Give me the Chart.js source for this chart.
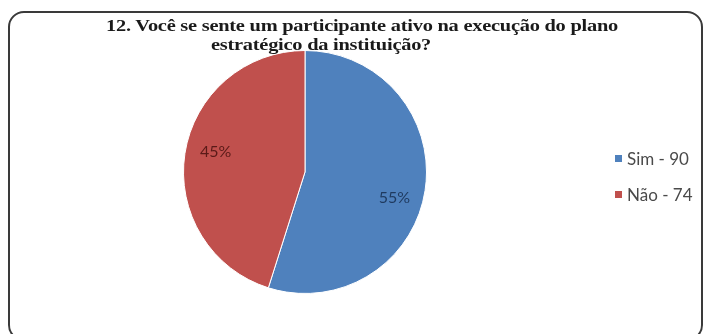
<!DOCTYPE html>
<html>
<head>
<meta charset="utf-8">
<script src="https://cdn.jsdelivr.net/npm/chart.js@4"></script>
<style>
  html, body { margin: 0; padding: 0; background: #fff; overflow: hidden; }
  #wrap { position: relative; width: 703px; height: 334px; overflow: hidden; }
  #frame {
    position: absolute; left: 8px; top: 11px; width: 695px; height: 330px;
    border: 2px solid #3a3a3a; border-radius: 16px; box-sizing: border-box;
  }
  #chart { position: absolute; left: 0; top: 0; }
  .title {
    position: absolute; white-space: nowrap;
    font-family: "Liberation Serif", "DejaVu Serif", serif; font-weight: bold;
    font-size: 17px; color: #1a1a1a; letter-spacing: -0.2px;
    transform: translateX(-50%) scaleX(1.2);
  }
  #legend { position: absolute; left: 615px; top: 148px; font-family: Lato, "Open Sans", sans-serif; font-size: 17px; color: #4a4a4a; }
  .item { height: 36px; display: flex; align-items: flex-start; }
  .swatch { width: 7px; height: 7px; margin: 7px 5px 0 0; }
</style>
</head>
<body>
<div id="wrap">
  <div id="frame"></div>
  <canvas id="chart" width="703" height="334"></canvas>
  <div class="title" id="t1" style="top:16px; left:362px"></div>
  <div class="title" id="t2" style="top:35px; left:321px"></div>
  <div id="legend"></div>
</div>
<script>
const titleLines = ["12. Você se sente um participante  ativo na execução do plano", "estratégico da instituição?"];
const labels = ["Sim", "Não"];
const values = [90, 74];
const colors = ['#4f81bd', '#c0504d'];

document.getElementById('t1').textContent = titleLines[0];
document.getElementById('t2').textContent = titleLines[1];

// legenda em HTML
const legend = document.getElementById('legend');
labels.forEach((l, i) => {
  const row = document.createElement('div');
  row.className = 'item';
  row.innerHTML = `<span class="swatch" style="background:${colors[i]}"></span><span>${l} - ${values[i]}</span>`;
  legend.appendChild(row);
});

const total = values.reduce((a, b) => a + b, 0);

// rótulos de porcentagem dentro das fatias
const pctLabels = {
  id: 'pctLabels',
  afterDatasetsDraw(chart) {
    const ctx = chart.ctx;
    const meta = chart.getDatasetMeta(0);
    ctx.save();
    ctx.font = '16px Lato, "Open Sans", sans-serif';
    ctx.textAlign = 'center';
    ctx.textBaseline = 'middle';
    meta.data.forEach((arc, i) => {
      const mid = (arc.startAngle + arc.endAngle) / 2 + 0.1;
      const r = arc.outerRadius * 0.76;
      const x = arc.x + Math.cos(mid) * r;
      const y = arc.y + Math.sin(mid) * r + 3;
      ctx.fillStyle = i === 0 ? '#1f3a5f' : '#5a1a18';
      ctx.fillText(Math.round(values[i] / total * 100) + '%', x, y);
    });
    ctx.restore();
  }
};

new Chart(document.getElementById('chart'), {
  type: 'pie',
  data: {
    labels: labels,
    datasets: [{
      data: values,
      backgroundColor: colors,
      borderColor: '#ffffff',
      borderWidth: 1
    }]
  },
  options: {
    responsive: false,
    animation: false,
    layout: { padding: { left: 183, right: 276, top: 48, bottom: 38 } },
    plugins: { legend: { display: false }, tooltip: { enabled: false } }
  },
  plugins: [pctLabels]
});
</script>
</body>
</html>
